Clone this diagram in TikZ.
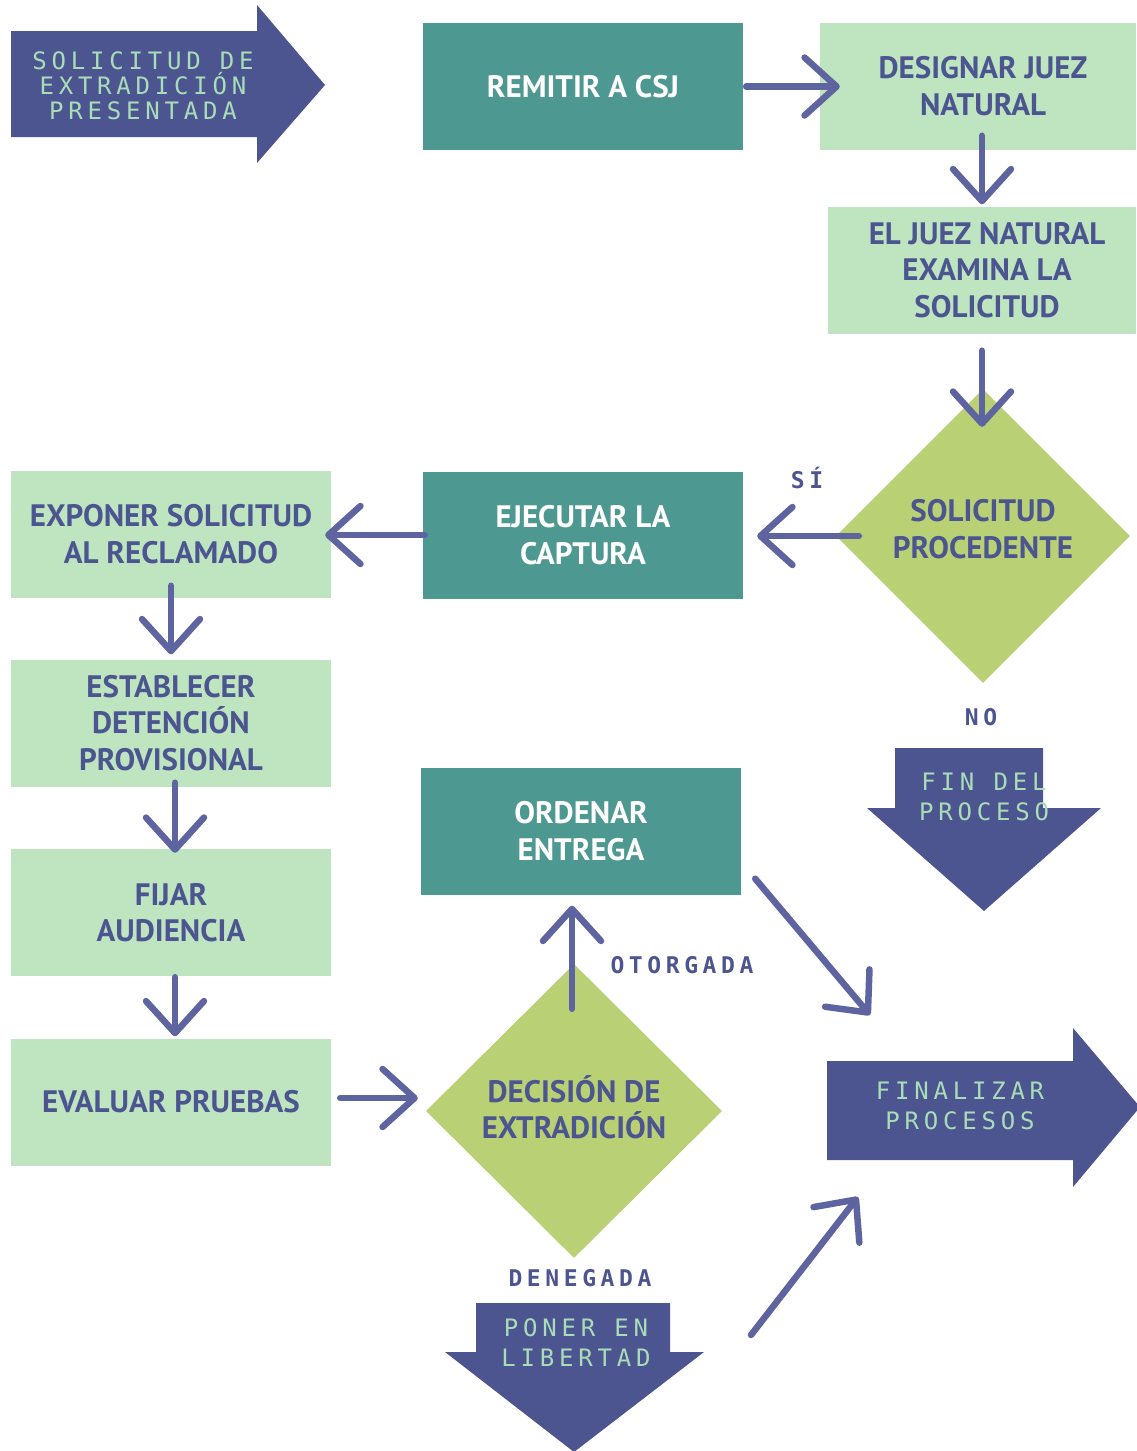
\documentclass[tikz,border=0pt]{standalone}
\usepackage{fontspec}
\setmainfont{PT Sans}
\newfontfamily\monof[LetterSpace=20]{DejaVu Sans Mono}
\usetikzlibrary{shapes.geometric,arrows.meta,calc}
\definecolor{navy}{HTML}{4C5590}
\definecolor{tealc}{HTML}{4E9892}
\definecolor{lightg}{HTML}{BEE5C0}
\definecolor{limec}{HTML}{B9D174}
\definecolor{penc}{HTML}{5E64A0}
\definecolor{monog}{HTML}{A9DDB8}
\begin{document}
\begin{tikzpicture}[x=1pt,y=-1pt,
  boxtxt/.style={font=\fontsize{31}{36.5}\selectfont\bfseries, align=center, inner sep=0pt},
  lightbox/.style={boxtxt, rectangle, fill=lightg, text=navy, minimum width=320pt, minimum height=127pt},
  tealbox/.style={boxtxt, rectangle, fill=tealc, text=white, minimum width=320pt, minimum height=127pt},
  decision/.style={diamond, fill=limec, minimum width=294pt, minimum height=294pt, inner sep=0pt},
  dectxt/.style={boxtxt, text=navy},
  bigtxt/.style={font=\monof\fontsize{24}{29}\selectfont, text=monog, align=center, inner sep=0pt},
  lbl/.style={font=\monof\bfseries\fontsize{23}{26}\selectfont, text=navy, inner sep=0pt},
  pen/.style={draw=penc, line width=6.5pt, line cap=round, line join=round,
    -{Straight Barb[length=32pt,width=58pt,round]}}
]
\useasboundingbox (0,0) rectangle (1136,1451);
\fill[white] (0,0) rectangle (1136,1451);

% big arrow shapes
\fill[navy] (11,31) -- (257,31) -- (257,5) -- (325,85) -- (257,163) -- (257,137) -- (11,137) -- cycle;
\fill[navy] (895,748) -- (1043,748) -- (1043,808) -- (1101,808) -- (984,911) -- (867,808) -- (895,808) -- cycle;
\fill[navy] (827,1061) -- (1073,1061) -- (1073,1028) -- (1140,1107) -- (1073,1187) -- (1073,1160) -- (827,1160) -- cycle;
\fill[navy] (476,1303) -- (670,1303) -- (670,1352) -- (704,1352) -- (574,1452) -- (445,1352) -- (476,1352) -- cycle;

\node[bigtxt, font=\monof\fontsize{24}{25}\selectfont] (start) at (143,86) {SOLICITUD DE\\EXTRADICIÓN\\PRESENTADA};
\node[bigtxt, font=\monof\fontsize{24}{30}\selectfont] (fin) at (984,797) {FIN DEL\\PROCESO};
\node[bigtxt, font=\monof\fontsize{24}{30}\selectfont] (finaliz) at (960,1106) {FINALIZAR\\PROCESOS};
\node[bigtxt, font=\monof\fontsize{24}{30}\selectfont] (poner) at (576,1343) {PONER EN\\LIBERTAD};

% boxes
\node[tealbox] (remit) at (583,86.5) {REMITIR A CSJ};
\node[lightbox, minimum width=316pt] (desig) at (978,86) {\hspace*{10pt}DESIGNAR JUEZ\\\hspace*{10pt}NATURAL};
\node[lightbox, minimum width=308pt] (examina) at (982,270) {\hspace*{10pt}EL JUEZ NATURAL\\\hspace*{10pt}EXAMINA LA\\\hspace*{10pt}SOLICITUD};
\node[decision] (proced) at (983,536) {};
\node[dectxt] at ([yshift=7pt]proced.center) {SOLICITUD\\PROCEDENTE};
\node[tealbox] (ejec) at (583,535) {EJECUTAR LA\\CAPTURA};
\node[lightbox] (expon) at (171,534) {EXPONER SOLICITUD\\AL RECLAMADO};
\node[lightbox] (estab) at (171,723) {ESTABLECER\\DETENCIÓN\\PROVISIONAL};
\node[lightbox] (fijar) at (171,912.5) {FIJAR\\AUDIENCIA};
\node[lightbox] (evaluar) at (171,1102) {EVALUAR PRUEBAS};
\node[decision, minimum width=296pt] (decis) at (574,1111) {};
\node[dectxt] at ([yshift=4pt]decis.center) {DECISIÓN DE\\EXTRADICIÓN};
\node[tealbox] (orden) at (581,831) {ORDENAR\\ENTREGA};

% labels
\node[lbl] (si) at (807,478) {SÍ};
\node[lbl] (no) at (981,717) {NO};
\node[lbl] (otorg) at (682,965) {OTORGADA};
\node[lbl] (deneg) at (580,1278) {DENEGADA};

% connectors
\draw[pen, shorten <=3pt, shorten >=-20pt] (remit.east) -- (remit.east -| desig.west);
\draw[pen, shorten <=-14pt, shorten >=2pt] (desig.south -| examina.north) -- (examina.north);
\draw[pen, shorten <=17pt, shorten >=-38pt] (examina.south) -- (examina.south |- proced.north);
\draw[pen, shorten <=-23pt, shorten >=14pt] (proced.west) -- (proced.west -| ejec.east);
\draw[pen, shorten <=-2pt, shorten >=-6pt] (ejec.west) -- (ejec.west -| expon.east);
\draw[pen, shorten <=-12pt, shorten >=5pt] (expon.south) -- (expon.south |- estab.north);
\draw[pen, shorten <=-4pt, shorten >=-4pt] ([xshift=4pt]estab.south) -- ([xshift=4pt]fijar.north);
\draw[pen, shorten <=1pt, shorten >=2pt] ([xshift=4pt]fijar.south) -- ([xshift=4pt]evaluar.north);
\draw[pen, shorten <=9pt, shorten >=8pt] ([yshift=4pt]evaluar.east) -- ([yshift=4pt]evaluar.east -| decis.west);
\draw[pen, shorten <=-45pt, shorten >=11pt] ([xshift=-2pt]decis.north) -- ([xshift=-2pt]decis.north |- orden.south);
\draw[pen] ([shift={(14,-16)}]orden.south east) -- ([shift={(-90,-91)}]finaliz.center);
\draw[pen] ([shift={(175,-8)}]poner.center) -- ([shift={(-102,91)}]finaliz.center);
\end{tikzpicture}
\end{document}
